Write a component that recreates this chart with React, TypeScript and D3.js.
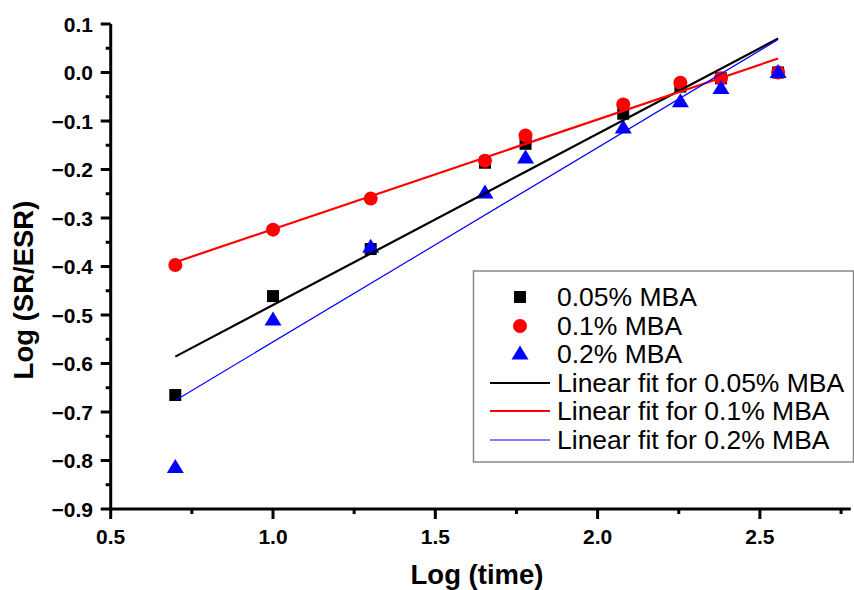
import React from "react";
import * as d3 from "d3";

// Log of sampling time
const logTime = [0.699, 1.0, 1.301, 1.653, 1.778, 2.079, 2.255, 2.38, 2.556];

// Log (SR/ESR) for each MBA content
const mba005 = [-0.665, -0.461, -0.364, -0.186, -0.147, -0.085, -0.029, -0.012, 0.0];
const mba01 = [-0.397, -0.324, -0.26, -0.182, -0.13, -0.066, -0.021, -0.012, 0.0];
const mba02 = [-0.814, -0.51, -0.36, -0.248, -0.176, -0.114, -0.06, -0.033, 0.0];

const seriesNames = ["0.05% MBA", "0.1% MBA", "0.2% MBA"];
const fitNames = ["Linear fit for 0.05% MBA", "Linear fit for 0.1% MBA", "Linear fit for 0.2% MBA"];
const colors = ["#000000", "#ff0000", "#0000ff"];

const xTicks = [0.5, 1.0, 1.5, 2.0, 2.5];
const yTicks = [0.1, 0.0, -0.1, -0.2, -0.3, -0.4, -0.5, -0.6, -0.7, -0.8, -0.9];

const W = 854;
const H = 590;
const FONT = "'Liberation Sans', Arial, Helvetica, sans-serif";

const x = d3.scaleLinear().domain([0.5, 2.78]).range([110.7, 850.8]);
const y = d3.scaleLinear().domain([-0.9, 0.1]).range([509, 24]);

function linearFit(xs: number[], ys: number[]) {
  const mx = d3.mean(xs) as number;
  const my = d3.mean(ys) as number;
  let sxy = 0;
  let sxx = 0;
  xs.forEach((v, i) => {
    sxy += (v - mx) * (ys[i] - my);
    sxx += (v - mx) * (v - mx);
  });
  const slope = sxy / sxx;
  return { slope, intercept: my - slope * mx };
}

function Square({ cx, cy, s = 12, fill }: { cx: number; cy: number; s?: number; fill: string }) {
  return <rect x={cx - s / 2} y={cy - s / 2} width={s} height={s} fill={fill} />;
}

function Circle({ cx, cy, r = 7, fill }: { cx: number; cy: number; r?: number; fill: string }) {
  return <circle cx={cx} cy={cy} r={r} fill={fill} />;
}

function Triangle({ cx, cy, w = 17, h = 14, fill }: { cx: number; cy: number; w?: number; h?: number; fill: string }) {
  const p = `M${cx},${cy - h * 0.6} L${cx + w / 2},${cy + h * 0.4} L${cx - w / 2},${cy + h * 0.4} Z`;
  return <path d={p} fill={fill} />;
}

export default function App() {
  const series = [mba005, mba01, mba02];
  const fits = series.map((s) => linearFit(logTime, s));
  const x0 = d3.min(logTime) as number;
  const x1 = d3.max(logTime) as number;
  const fitWidths = [2.2, 2.2, 1.2];

  const xMinor = d3.range(0.75, 2.78, 0.5);
  const yMinor = d3.range(-0.85, 0.1, 0.1);

  const axisY = y(-0.9);
  const axisX = x(0.5);

  const legendRows = [297, 326, 354, 383, 411, 440];

  return (
    <svg
      width={W}
      height={H}
      style={{ position: "absolute", left: 0, top: 0, background: "#fff" }}
      fontFamily={FONT}
    >
      <rect width={W} height={H} fill="#fff" />

      {/* scatter points */}
      {logTime.map((t, i) => (
        <Square key={`s${i}`} cx={x(t)} cy={y(mba005[i])} fill={colors[0]} />
      ))}
      {logTime.map((t, i) => (
        <Circle key={`c${i}`} cx={x(t)} cy={y(mba01[i])} fill={colors[1]} />
      ))}
      {logTime.map((t, i) => (
        <Triangle key={`t${i}`} cx={x(t)} cy={y(mba02[i])} fill={colors[2]} />
      ))}

      {/* linear fits */}
      {fits.map((f, i) => (
        <line
          key={`f${i}`}
          x1={x(x0)}
          y1={y(f.intercept + f.slope * x0)}
          x2={x(x1)}
          y2={y(f.intercept + f.slope * x1)}
          stroke={colors[i]}
          strokeWidth={fitWidths[i]}
        />
      ))}

      {/* y axis */}
      <line x1={axisX} y1={y(0.1)} x2={axisX} y2={axisY + 1.5} stroke="#000" strokeWidth={3} />
      {yTicks.map((v) => (
        <g key={`yt${v}`}>
          <line x1={axisX - 10} x2={axisX} y1={y(v)} y2={y(v)} stroke="#000" strokeWidth={3} />
          <text
            x={93}
            y={y(v)}
            textAnchor="end"
            dominantBaseline="central"
            fontSize={21}
            fontWeight="bold"
          >
            {d3.format(".1f")(v)}
          </text>
        </g>
      ))}
      {yMinor.map((v) => (
        <line key={`ym${v}`} x1={axisX - 5} x2={axisX} y1={y(v)} y2={y(v)} stroke="#000" strokeWidth={3} />
      ))}

      {/* x axis */}
      <line x1={axisX - 1.5} y1={axisY} x2={x(2.78)} y2={axisY} stroke="#000" strokeWidth={3} />
      {xTicks.map((v) => (
        <g key={`xt${v}`}>
          <line x1={x(v)} x2={x(v)} y1={axisY} y2={axisY + 10} stroke="#000" strokeWidth={3} />
          <text x={x(v)} y={axisY + 35} textAnchor="middle" fontSize={21} fontWeight="bold">
            {d3.format(".1f")(v)}
          </text>
        </g>
      ))}
      {xMinor.map((v) => (
        <line key={`xm${v}`} x1={x(v)} x2={x(v)} y1={axisY} y2={axisY + 5} stroke="#000" strokeWidth={3} />
      ))}

      {/* axis titles */}
      <text x={477} y={584} textAnchor="middle" fontSize={27.5} fontWeight="bold">
        Log (time)
      </text>
      <text
        transform="translate(33,290) rotate(-90)"
        textAnchor="middle"
        fontSize={27.5}
        fontWeight="bold"
      >
        Log (SR/ESR)
      </text>

      {/* legend */}
      <rect x={473.5} y={271} width={380} height={191} fill="#fff" stroke="#888" strokeWidth={1.5} />
      <Square cx={520} cy={legendRows[0]} fill={colors[0]} />
      <Circle cx={520} cy={legendRows[1]} fill={colors[1]} />
      <Triangle cx={520} cy={legendRows[2]} fill={colors[2]} />
      {fitNames.map((_, i) => (
        <line
          key={`ll${i}`}
          x1={490}
          x2={550}
          y1={legendRows[3 + i]}
          y2={legendRows[3 + i]}
          stroke={colors[i]}
          strokeWidth={fitWidths[i]}
        />
      ))}
      {[...seriesNames, ...fitNames].map((name, i) => (
        <text key={`lt${i}`} x={557} y={legendRows[i]} dominantBaseline="central" fontSize={26.5}>
          {name}
        </text>
      ))}
    </svg>
  );
}
